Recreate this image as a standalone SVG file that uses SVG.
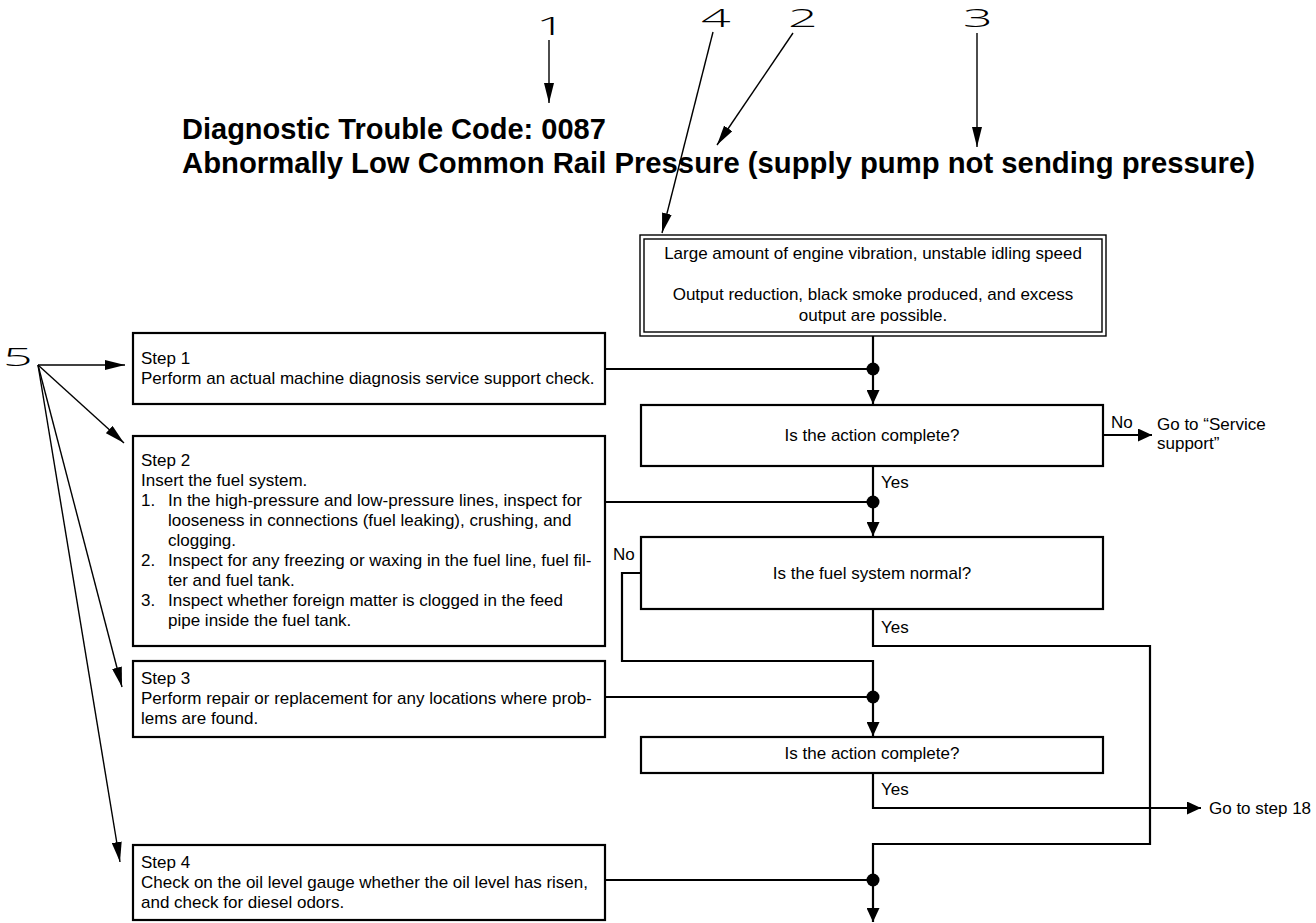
<svg xmlns="http://www.w3.org/2000/svg" width="1316" height="923" viewBox="0 0 1316 923">
<defs>
<style>
.t{font-family:"Liberation Sans",Arial,Helvetica,sans-serif;font-size:17px;fill:#000}
.c{text-anchor:middle}
.h{font-family:"Liberation Sans",Arial,Helvetica,sans-serif;font-size:29px;font-weight:bold;fill:#000}
.n{font-family:"Open Sans","Liberation Sans",sans-serif;font-size:26px;font-weight:300;fill:#000}
.box{fill:#fff;stroke:#000;stroke-width:2.2}
.dbl{fill:none;stroke:#000;stroke-width:1.4}
.ln{fill:none;stroke:#000;stroke-width:2.2}
.lab{fill:none;stroke:#000;stroke-width:1.4}
</style>
<marker id="aL" markerUnits="userSpaceOnUse" markerWidth="20" markerHeight="10" refX="20" refY="5" orient="auto" viewBox="0 0 20 10"><path d="M0,0 L20,5 L0,10 z" fill="#000"/></marker>
<marker id="aF" markerUnits="userSpaceOnUse" markerWidth="14" markerHeight="13" refX="14" refY="6.5" orient="auto" viewBox="0 0 14 13"><path d="M0,0 L14,6.5 L0,13 z" fill="#000"/></marker>
</defs>
<rect width="1316" height="923" fill="#fff"/>

<g id="title">
<text class="h" x="182" y="139">Diagnostic Trouble Code: 0087</text>
<text class="h" x="182" y="173" textLength="1073" lengthAdjust="spacingAndGlyphs">Abnormally Low Common Rail Pressure (supply pump not sending pressure)</text>
</g>

<g id="callouts">
<text class="n" transform="translate(536,35) scale(2,1)">1</text>
<text class="n" transform="translate(701,27) scale(2,1)">4</text>
<text class="n" transform="translate(788,27) scale(2,1)">2</text>
<text class="n" transform="translate(963,27) scale(2,1)">3</text>
<text class="n" transform="translate(3,366) scale(2,1)">5</text>
<path class="lab" d="M549,40 L549,103" marker-end="url(#aL)"/>
<path class="lab" d="M713,32 L662,233" marker-end="url(#aL)"/>
<path class="lab" d="M793,33 L717,145" marker-end="url(#aL)"/>
<path class="lab" d="M977,33 L977,147" marker-end="url(#aL)"/>
<path class="lab" d="M38,365 L125,365" marker-end="url(#aL)"/>
<path class="lab" d="M38,365 L124,443" marker-end="url(#aL)"/>
<path class="lab" d="M38,365 L122,687" marker-end="url(#aL)"/>
<path class="lab" d="M38,365 L120,862" marker-end="url(#aL)"/>
</g>

<g id="connectors">
<path class="ln" d="M873,336 L873,404" marker-end="url(#aF)"/>
<path class="ln" d="M605,369 L873,369"/>
<circle cx="873" cy="369" r="6.5"/>
<path class="ln" d="M873,466 L873,536" marker-end="url(#aF)"/>
<path class="ln" d="M605,502 L873,502"/>
<circle cx="873" cy="502" r="6.5"/>
<path class="ln" d="M1103,435 L1152,435" marker-end="url(#aF)"/>
<path class="ln" d="M642,573 L622,573 L622,661 L873,661 L873,736" marker-end="url(#aF)"/>
<path class="ln" d="M605,697 L873,697"/>
<circle cx="873" cy="697" r="6.5"/>
<path class="ln" d="M873,609 L873,646 L1150,646 L1150,844 L873,844 L873,922" marker-end="url(#aF)"/>
<path class="ln" d="M605,880 L873,880"/>
<circle cx="873" cy="880" r="6.5"/>
<path class="ln" d="M873,773 L873,808 L1201,808" marker-end="url(#aF)"/>
</g>

<g id="symptom">
<rect class="dbl" x="640" y="235" width="466" height="101"/>
<rect class="dbl" x="644" y="239" width="458" height="93"/>
<text class="t c" x="873" y="259">Large amount of engine vibration, unstable idling speed</text>
<text class="t c" x="873" y="300">Output reduction, black smoke produced, and excess</text>
<text class="t c" x="873" y="321">output are possible.</text>
</g>

<g id="step1">
<rect class="box" x="133" y="333" width="472" height="71"/>
<text class="t" x="141" y="364">Step 1</text>
<text class="t" x="141" y="384">Perform an actual machine diagnosis service support check.</text>
</g>

<g id="decision1">
<rect class="box" x="641" y="405" width="462" height="61"/>
<text class="t c" x="872" y="441">Is the action complete?</text>
<text class="t" x="1111" y="428">No</text>
<text class="t" x="1157" y="430">Go to “Service</text>
<text class="t" x="1157" y="449">support”</text>
<text class="t" x="881" y="488">Yes</text>
</g>

<g id="step2">
<rect class="box" x="133" y="436" width="472" height="210"/>
<text class="t" x="141" y="466">Step 2</text>
<text class="t" x="141" y="486">Insert the fuel system.</text>
<text class="t" x="141" y="506">1.</text>
<text class="t" x="168" y="506">In the high-pressure and low-pressure lines, inspect for</text>
<text class="t" x="168" y="526">looseness in connections (fuel leaking), crushing, and</text>
<text class="t" x="168" y="546">clogging.</text>
<text class="t" x="141" y="566">2.</text>
<text class="t" x="168" y="566">Inspect for any freezing or waxing in the fuel line, fuel fil-</text>
<text class="t" x="168" y="586">ter and fuel tank.</text>
<text class="t" x="141" y="606">3.</text>
<text class="t" x="168" y="606">Inspect whether foreign matter is clogged in the feed</text>
<text class="t" x="168" y="626">pipe inside the fuel tank.</text>
</g>

<g id="decision2">
<rect class="box" x="641" y="537" width="462" height="72"/>
<text class="t c" x="872" y="579">Is the fuel system normal?</text>
<text class="t" x="613" y="560">No</text>
<text class="t" x="881" y="633">Yes</text>
</g>

<g id="step3">
<rect class="box" x="133" y="661" width="472" height="76"/>
<text class="t" x="141" y="684">Step 3</text>
<text class="t" x="141" y="704">Perform repair or replacement for any locations where prob-</text>
<text class="t" x="141" y="724">lems are found.</text>
</g>

<g id="decision3">
<rect class="box" x="641" y="737" width="462" height="36"/>
<text class="t c" x="872" y="759">Is the action complete?</text>
<text class="t" x="881" y="795">Yes</text>
<text class="t" x="1209" y="814">Go to step 18</text>
</g>

<g id="step4">
<rect class="box" x="133" y="845" width="472" height="75"/>
<text class="t" x="141" y="868">Step 4</text>
<text class="t" x="141" y="888">Check on the oil level gauge whether the oil level has risen,</text>
<text class="t" x="141" y="908">and check for diesel odors.</text>
</g>
</svg>
